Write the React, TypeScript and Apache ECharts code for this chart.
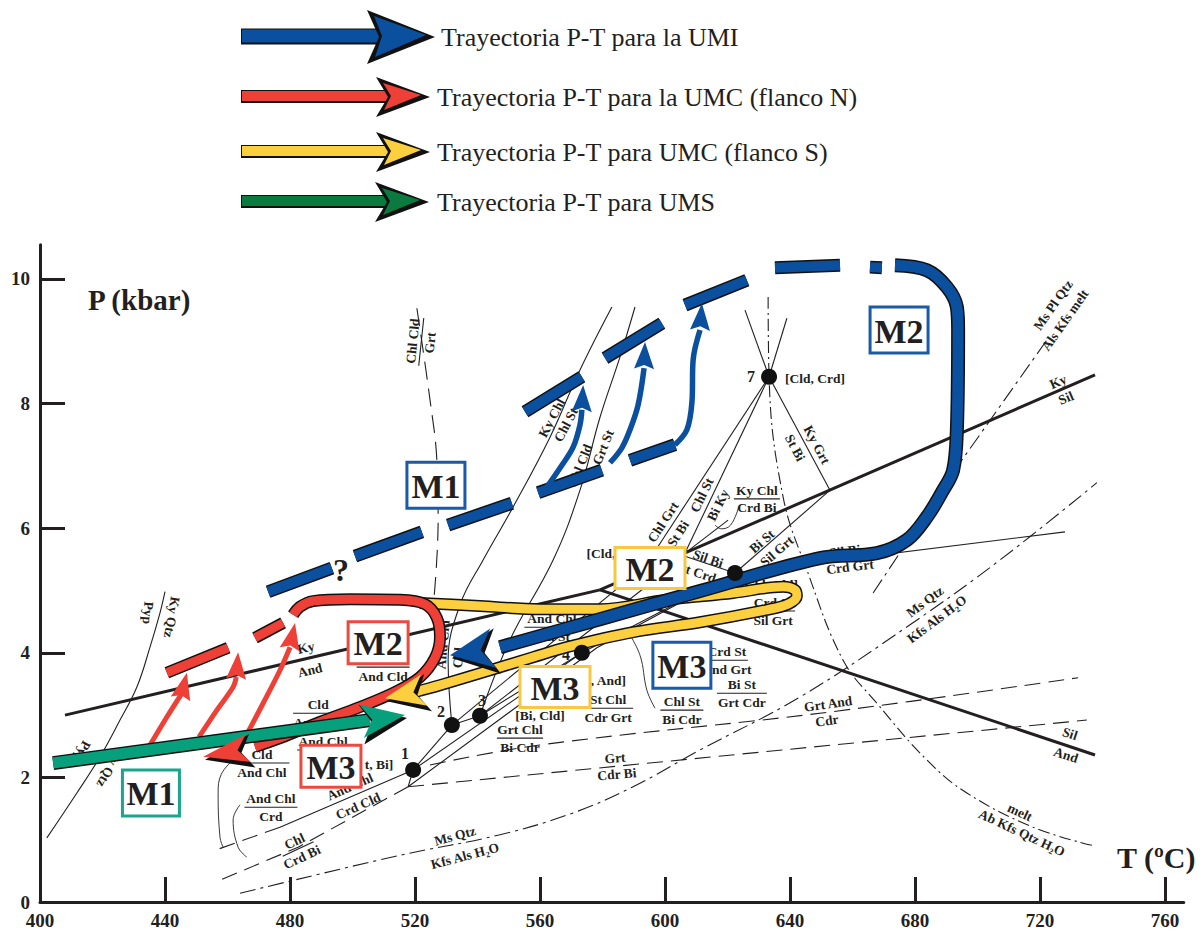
import React, { useEffect, useRef } from "react";
import * as echarts from "echarts";

const FONT = '"Liberation Serif", "Times New Roman", Times, serif';
const INK = "#231f20";

// ---------- axes ----------
const X_TICKS = [400, 440, 480, 520, 560, 600, 640, 680, 720, 760];
const Y_TICKS = [0, 2, 4, 6, 8, 10];

// ---------- legend ----------
const LEGEND_LABELS = [
  "Trayectoria P-T para la UMI",
  "Trayectoria P-T para la UMC (flanco N)",
  "Trayectoria P-T para UMC (flanco S)",
  "Trayectoria P-T para UMS",
];

// ---------- colours ----------
const BLUE = "#0b4f9f";
const RED = "#ee4036";
const YELLOW = "#fccf3e";
const GREEN = "#07a07d";
const LEGEND_GREEN = "#0b7a3f";
const BOX_COLORS: Record<string, string> = { b: "#1a5aa8", g: "#1aa58c", r: "#ea4a3f", y: "#f7c841" };

// ---------- reaction curves (T °C, P kbar) ----------
const KY_AND = [[408.0, 3.0], [579.2, 5.01]];
const KY_SIL = [[579.2, 5.01], [737.6, 8.46]];
const SIL_AND = [[579.2, 5.01], [737.6, 2.36]];
const KY_QTZ_PYP = [[402.2, 1.03], [411.8, 1.75], [419.2, 2.33], [425.6, 2.92], [431.0, 3.45], [435.2, 4.09], [438.4, 4.64], [440.0, 4.98]];
const CHL_CLD_GRT = [[520.6, 9.53], [524.8, 8.06], [527.0, 7.09], [527.4, 6.13], [525.6, 4.6]];
const KYCHL_CHLST = [[531.8, 2.84], [530.6, 3.88], [534.4, 4.77], [541.8, 5.49], [551.4, 6.34], [563.2, 7.46], [572.8, 8.54], [583.0, 9.55]];
const CLD_GRTST = [[540.8, 2.99], [550.4, 4.21], [564.2, 5.49], [572.8, 6.61], [579.2, 7.78], [585.6, 8.75], [590.4, 9.55]];
const P7_UP_LEFT = [[633.3, 8.43], [625.6, 9.5]];
const P7_UP_RIGHT = [[633.3, 8.43], [639.0, 9.37]];
const KYGRT_STBI = [[633.3, 8.43], [652.8, 6.61]];
const BIST_SILGRT = [[652.8, 6.61], [622.4, 5.28]];
const CHLGRT_STBI = [[633.3, 8.43], [593.9, 5.41]];
const CHLST_BIKY = [[633.3, 8.43], [606.4, 5.6]];
const BIKY_SHORT = [[606.4, 5.6], [620.2, 6.13]];
const SILBI_GRTCRD = [[606.4, 5.55], [622.4, 5.28], [728.0, 5.94]];
const MELT = [[633.0, 9.71], [633.3, 8.43], [637.8, 6.5], [645.4, 5.33], [657.0, 3.88], [667.8, 3.19], [683.8, 2.28], [696.6, 1.75], [717.8, 1.2], [736.6, 0.91]];
const MS_QTZ = [[464.0, 0.14], [515.2, 0.75], [547.2, 1.08], [570.6, 1.43], [589.8, 1.85], [611.2, 2.44], [643.2, 3.29], [678.4, 4.45], [707.2, 5.49], [738.2, 6.73]];
const MS_PL_QTZ = [[666.6, 4.96], [694.4, 7.05], [722.2, 9.02]];
const GRT_AND_CDR = [[524.8, 2.2], [560.0, 2.52], [652.8, 3.05], [732.2, 3.6]];
const GRT_CDR_BI = [[517.8, 1.85], [735.0, 2.92]];
const P1_SW_SOLID = [[519.4, 2.12], [476.8, 1.2]];
const P1_SW_DASH = [[476.8, 1.2], [456.0, 0.83]];
const CHL_CRDBI = [[517.8, 1.85], [482.6, 0.88], [457.6, 0.35]];
const FAN_LINES = [
  [[519.4, 2.12], [531.8, 2.84]],
  [[531.8, 2.84], [540.8, 2.99]],
  [[517.8, 1.85], [519.4, 2.12]],
  [[517.8, 1.85], [578.2, 4.08], [622.4, 5.28]],
  [[519.4, 2.12], [573.4, 4.0]],
  [[540.8, 2.99], [573.4, 4.0], [622.4, 5.28]],
  [[531.8, 2.84], [593.9, 5.41]],
  [[540.8, 2.99], [606.4, 5.55]],
];
const CONNECTORS = [
  [[461.8, 2.28], [458.0, 2.05], [457.0, 1.75], [457.6, 1.04], [458.6, 0.88]],
  [[464.0, 1.56], [461.8, 1.32], [463.4, 0.88], [466.2, 0.72]],
  [[587.8, 4.37], [592.0, 3.96], [594.2, 3.4], [596.8, 3.11]],
  [[623.6, 6.34], [621.0, 6.05], [618.0, 5.99], [616.0, 6.05]],
];
const INVARIANT_POINTS = [[519.4, 2.12], [531.8, 2.84], [540.8, 2.99], [573.4, 4.0], [622.4, 5.28], [633.3, 8.43]];

// ---------- P-T paths ----------
const BLUE_DASHES = [
  [[473.0, 4.98], [493.4, 5.36]],
  [[500.8, 5.55], [522.2, 5.94]],
  [[530.6, 6.05], [551.0, 6.4]],
  [[559.4, 6.57], [579.8, 6.93]],
  [[588.8, 7.09], [603.2, 7.34]],
  [[555.2, 7.87], [573.4, 8.43]],
  [[580.8, 8.73], [599.0, 9.29]],
  [[606.4, 9.58], [626.2, 9.98]],
  [[635.2, 10.18], [656.0, 10.22]],
  [[665.6, 10.19], [669.4, 10.18]],
];
const BLUE_PATH = [[673.6, 10.22], [683.8, 10.14], [690.2, 9.87], [693.4, 9.55], [693.8, 9.18], [693.4, 7.58], [692.2, 6.93], [689.0, 6.61], [683.8, 6.18], [677.4, 5.81], [667.8, 5.6], [649.6, 5.52], [611.2, 4.99], [579.2, 4.54], [547.2, 4.09]];
const BLUE_ARROWS = [
  [[562.2, 6.66], [567.0, 7.01], [570.6, 7.3], [572.8, 7.66], [573.4, 7.9]],
  [[582.4, 7.05], [586.2, 7.29], [588.8, 7.58], [591.4, 7.98], [593.3, 8.57]],
  [[603.2, 7.34], [607.0, 7.58], [608.6, 8.01], [609.0, 8.7], [611.2, 9.18]],
];
const RED_DASHES = [
  [[440.6, 3.68], [460.2, 4.08]],
  [[468.8, 4.24], [477.8, 4.48]],
];
const RED_PATH = [[481.0, 4.61], [483.2, 4.74], [487.4, 4.83], [499.2, 4.86], [515.2, 4.85], [523.2, 4.78], [527.0, 4.56], [528.0, 4.25], [526.4, 3.92], [521.6, 3.61], [513.6, 3.37], [502.4, 3.13], [489.6, 2.89], [476.8, 2.63], [468.8, 2.49]];
const RED_ARROWS = [
  [[435.2, 2.52], [440.6, 2.97], [445.4, 3.35]],
  [[450.9, 2.65], [456.6, 3.08], [461.8, 3.45], [462.8, 3.61]],
  [[466.6, 2.73], [471.4, 3.19], [476.8, 3.72], [480.0, 4.09]],
];
const YELLOW_PATH = [[521.6, 4.8], [540.8, 4.75], [560.0, 4.7], [579.2, 4.7], [600.6, 4.85], [621.8, 4.96], [637.8, 5.06], [641.6, 5.01], [642.2, 4.91], [639.4, 4.78], [632.6, 4.69], [611.2, 4.49], [589.8, 4.33], [568.6, 4.09], [557.8, 3.93], [544.0, 3.72], [528.0, 3.48], [520.0, 3.37]];
const GREEN_PATH = [[404.2, 2.23], [505.6, 2.92]];

// arrow heads: tip, direction-from point, colour, kind
const ARROW_HEADS: [number[], number[], string, string][] = [
  [[531.2, 3.96], [547.2, 4.09], "blue", "big"],
  [[510.4, 3.27], [520.0, 3.37], "yellow", "yel"],
  [[452.2, 2.33], [468.8, 2.49], "red", "redbig"],
  [[516.8, 3.0], [505.6, 2.92], "green", "green"],
  [[573.8, 8.3], [573.4, 7.9], "blue", "small"],
  [[593.6, 8.99], [593.3, 8.57], "blue", "small"],
  [[611.8, 9.61], [611.2, 9.18], "blue", "small"],
  [[447.0, 3.68], [445.4, 3.35], "red", "small"],
  [[463.4, 4.01], [462.8, 3.61], "red", "small"],
  [[481.6, 4.48], [480.0, 4.09], "red", "small"],
];

// ---------- annotations ----------
const LABELS: [string, number, number, number][] = [
  ["Ky", 485.1, 4.08, 13], ["And", 486.4, 3.72, 13],
  ["Ky", 725.8, 8.35, 23], ["Sil", 728.3, 8.09, 23],
  ["Sil", 729.6, 2.7, -18], ["And", 728.3, 2.36, -18],
  ["Pyp", 434.6, 4.64, -95], ["Ky Qtz", 442.2, 4.57, -100],
  ["Ky Qtz", 422.4, 2.15, -118], ["Pyp", 413.4, 2.41, -118],
  ["Ky Chl", 563.8, 7.77, 62], ["Chl St", 568.3, 7.66, 62],
  ["Chl Cld", 572.8, 7.0, 68], ["Grt St", 580.2, 7.3, 68],
  ["Chl Grt", 599.4, 6.1, 57], ["St Bi", 604.2, 5.91, 57],
  ["Chl St", 611.8, 6.53, 64], ["Bi Ky", 617.0, 6.37, 64],
  ["Sil Bi", 613.8, 5.51, -19], ["Grt Crd", 609.0, 5.31, -19],
  ["Bi St", 631.0, 5.79, 41], ["Sil Grt", 635.8, 5.63, 41],
  ["Ky Grt", 648.6, 7.34, -62], ["St Bi", 641.6, 7.29, -62],
  ["Sil Bi", 657.6, 5.63, 7], ["Crd Grt", 659.2, 5.38, 7],
  ["Grt And", 652.2, 3.18, 8], ["Cdr", 651.8, 2.91, 8],
  ["Grt", 584.0, 2.31, 5], ["Cdr Bi", 584.6, 2.05, 5],
  ["Ms Qtz", 532.8, 1.06, 15], ["Kfs Als H₂O", 536.0, 0.74, 15],
  ["Ms Qtz", 683.2, 4.82, 37], ["Kfs Als H₂O", 687.0, 4.54, 37],
  ["melt", 713.6, 1.44, -25], ["Ab Kfs Qtz H₂O", 714.2, 1.11, -25],
  ["Ms Pl Qtz", 724.2, 9.58, 55], ["Als Kfs melt", 728.0, 9.34, 55],
  ["And Chl", 499.2, 1.85, 24], ["Crd Cld", 501.8, 1.54, 24],
  ["And Cld", 529.0, 4.13, 85], ["Chl", 533.8, 3.92, 85],
  ["[Cld, Crd]", 648.0, 8.41, 0], ["[Bi, Cld]", 560.0, 2.99, 0],
  [", And]", 581.9, 3.55, 0], ["t, Bi]", 508.5, 2.2, 0],
  ["[Cld,", 579.5, 5.6, 0], ["[Chl, Cld]", 633.3, 5.1, 0],
];
const POINT_NUMBERS: [string, number, number][] = [
  ["7", 627.5, 8.43], ["1", 516.8, 2.38], ["2", 528.3, 3.05], ["3", 541.4, 3.24], ["4", 568.3, 3.98],
];
const QUESTION: [string, number, number][] = [["?", 496.3, 5.33]];

const FRACTIONS: [string, string, number, number, number, number][] = [
  ["Chl Cld", "Grt", 522.0, 8.99, 84, 48],
  ["Ky Chl", "Crd Bi", 629.4, 6.47, 0, 46],
  ["Crd St", "Sil Grt", 634.6, 4.67, 0, 44],
  ["Crd St", "And Grt", 619.8, 3.88, 0, 42],
  ["Bi St", "Grt Cdr", 624.6, 3.35, 0, 50],
  ["Chl St", "Bi Cdr", 605.4, 3.08, 0, 43],
  ["St Chl", "Cdr Grt", 581.8, 3.11, 0, 50],
  ["Grt Chl", "Bi Cdr", 553.6, 2.63, 0, 46],
  ["And Chl", "Chl St", 563.8, 4.41, 0, 55],
  ["Cld", "And Chl", 489.0, 3.03, 0, 50],
  ["And Chl", "", 490.6, 2.44, 0, 52],
  ["Cld", "And Chl", 471.0, 2.23, 0, 55],
  ["And Chl", "Crd", 473.9, 1.52, 0, 53],
  ["", "And Cld", 509.8, 3.77, 0, 53],
  ["Chl", "Crd Bi", 482.6, 0.85, 25, 34],
];

const BOXES: [string, number, number, string][] = [
  ["M1", 526.7, 6.69, "b"], ["M2", 674.9, 9.18, "b"], ["M3", 605.4, 3.8, "b"],
  ["M1", 435.5, 1.75, "g"], ["M2", 508.2, 4.16, "r"], ["M3", 493.1, 2.18, "r"],
  ["M2", 595.2, 5.36, "y"], ["M3", 564.8, 3.45, "y"],
];
const BOX_SIZE: Record<string, [number, number]> = { b: [58, 46], g: [57, 46], r: [60, 42], y: [70, 41] };

// ---------- helpers ----------
const DASH = [16, 8];
const DASH_DOT = [12, 4, 2, 4];
const DASH_DOT_LONG = [16, 5, 3, 5];

function thin(data: number[][], type: any = "solid", smooth = false, width = 1.1) {
  return {
    type: "line", data, symbol: "none", showSymbol: false, smooth: smooth ? 0.4 : false,
    lineStyle: { color: INK, width, type }, z: 2, silent: true, clip: false, animation: false,
  };
}
function colored(data: number[][], color: string, width: number, smooth: boolean, z: number, outline = true) {
  const base = { type: "line", data, symbol: "none", showSymbol: false, smooth: smooth ? 0.35 : false, silent: true, clip: false, animation: false };
  const out: any[] = [];
  if (outline) out.push({ ...base, z, lineStyle: { color: "#111", width: width + 3, cap: "butt", join: "round" } });
  out.push({ ...base, z: z + 0.1, lineStyle: { color, width, cap: "butt", join: "round" } });
  return out;
}
const textStyle = (text: string, size: number, bold = true) => ({
  text, fill: INK, fontFamily: FONT, fontWeight: bold ? "bold" : "normal", fontSize: size,
  align: "center", verticalAlign: "middle",
});

const HEAD_COLORS: Record<string, string> = { blue: BLUE, red: RED, yellow: YELLOW, green: GREEN };
const HEAD_SIZE: Record<string, [number, number, number, boolean]> = {
  big: [44, 20, 13, true], yel: [40, 16, 11, true], redbig: [46, 14, 11, true], green: [44, 17, 11, true], small: [27, 10, 4, false],
};

export default function App() {
  const ref = useRef<HTMLDivElement>(null);
  useEffect(() => {
    if (!ref.current) return;
    const chart = echarts.init(ref.current, null, { renderer: "svg" });

    const series: any[] = [];
    // thin reaction curves
    series.push(thin(KY_AND, "solid", false, 3));
    series.push(thin(KY_SIL, "solid", false, 3));
    series.push(thin(SIL_AND, "solid", false, 3));
    series.push(thin(KY_QTZ_PYP, "solid", true));
    series.push(thin(CHL_CLD_GRT, [18, 9], true));
    series.push(thin(KYCHL_CHLST, "solid", true));
    series.push(thin(CLD_GRTST, "solid", true));
    series.push(thin(P7_UP_LEFT));
    series.push(thin(P7_UP_RIGHT));
    series.push(thin(KYGRT_STBI));
    series.push(thin(BIST_SILGRT));
    series.push(thin(CHLGRT_STBI));
    series.push(thin(CHLST_BIKY));
    series.push(thin(BIKY_SHORT));
    series.push(thin(SILBI_GRTCRD));
    series.push(thin(MELT, DASH_DOT, true));
    series.push(thin(MS_QTZ, DASH_DOT_LONG, true));
    series.push(thin(MS_PL_QTZ, DASH_DOT_LONG, false));
    series.push(thin(GRT_AND_CDR, DASH, true));
    series.push(thin(GRT_CDR_BI, DASH));
    series.push(thin(P1_SW_SOLID));
    series.push(thin(P1_SW_DASH, DASH));
    series.push(thin(CHL_CRDBI, DASH));
    FAN_LINES.forEach((d) => series.push(thin(d)));
    CONNECTORS.forEach((d) => series.push(thin(d, "solid", true, 0.9)));

    // labels
    series.push({
      type: "custom", coordinateSystem: "cartesian2d", z: 3, silent: true, clip: false, animation: false,
      data: LABELS.map((l) => [l[1], l[2]]),
      renderItem: (p: any, api: any) => {
        const l = LABELS[p.dataIndex];
        const c = api.coord([l[1], l[2]]);
        return { type: "text", x: c[0], y: c[1], rotation: (l[3] * Math.PI) / 180, style: textStyle(l[0], 13.5) };
      },
    });
    series.push({
      type: "custom", coordinateSystem: "cartesian2d", z: 3, silent: true, clip: false, animation: false,
      data: POINT_NUMBERS.map((l) => [l[1], l[2]]),
      renderItem: (p: any, api: any) => {
        const l = POINT_NUMBERS[p.dataIndex];
        const c = api.coord([l[1], l[2]]);
        return { type: "text", x: c[0], y: c[1], style: textStyle(l[0], 16) };
      },
    });
    series.push({
      type: "custom", coordinateSystem: "cartesian2d", z: 3, silent: true, clip: false, animation: false,
      data: QUESTION.map((l) => [l[1], l[2]]),
      renderItem: (p: any, api: any) => {
        const l = QUESTION[p.dataIndex];
        const c = api.coord([l[1], l[2]]);
        return { type: "text", x: c[0], y: c[1], style: textStyle(l[0], 32) };
      },
    });
    series.push({
      type: "custom", coordinateSystem: "cartesian2d", z: 3, silent: true, clip: false, animation: false,
      data: FRACTIONS.map((f) => [f[2], f[3]]),
      renderItem: (p: any, api: any) => {
        const f = FRACTIONS[p.dataIndex];
        const c = api.coord([f[2], f[3]]);
        const w = f[5];
        const children: any[] = [];
        if (f[0]) children.push({ type: "text", x: 0, y: -8.5, style: textStyle(f[0], 13.5) });
        children.push({ type: "line", shape: { x1: -w / 2, y1: 0, x2: w / 2, y2: 0 }, style: { stroke: INK, lineWidth: 1.1 } });
        if (f[1]) children.push({ type: "text", x: 0, y: 9, style: textStyle(f[1], 13.5) });
        return { type: "group", x: c[0], y: c[1], rotation: (f[4] * Math.PI) / 180, children };
      },
    });

    // coloured P-T paths
    series.push(...colored(YELLOW_PATH, YELLOW, 9, true, 5));
    RED_DASHES.forEach((d) => series.push(...colored(d, RED, 9, false, 6)));
    series.push(...colored(RED_PATH, RED, 9, true, 6));
    RED_ARROWS.forEach((d) => series.push(...colored(d, RED, 5, true, 6, false)));
    BLUE_DASHES.forEach((d) => series.push(...colored(d, BLUE, 10, false, 7)));
    series.push(...colored(BLUE_PATH, BLUE, 11, true, 7));
    BLUE_ARROWS.forEach((d) => series.push(...colored(d, BLUE, 5.5, true, 7, false)));
    series.push(...colored(GREEN_PATH, GREEN, 11, false, 8));

    // arrow heads
    series.push({
      type: "custom", coordinateSystem: "cartesian2d", z: 8.5, silent: true, clip: false, animation: false,
      data: ARROW_HEADS.map((a) => a[0]),
      renderItem: (p: any, api: any) => {
        const a = ARROW_HEADS[p.dataIndex];
        const t = api.coord(a[0]);
        const f = api.coord(a[1]);
        const [len, hw, notch, shadow] = HEAD_SIZE[a[3]];
        const dx = t[0] - f[0], dy = t[1] - f[1];
        const L = Math.hypot(dx, dy) || 1;
        const ux = dx / L, uy = dy / L, nx = -uy, ny = ux;
        const mk = (ln: number, h: number, nt: number, ox: number, oy: number) => {
          const bx = t[0] - ux * ln + ox, by = t[1] - uy * ln + oy;
          return [
            [t[0] + ox, t[1] + oy],
            [bx + nx * h, by + ny * h],
            [t[0] - ux * (ln - nt) + ox, t[1] - uy * (ln - nt) + oy],
            [bx - nx * h, by - ny * h],
          ];
        };
        const children: any[] = [];
        if (shadow) children.push({ type: "polygon", shape: { points: mk(len + 2, hw + 3, notch, 2, 3) }, style: { fill: "#111" } });
        children.push({ type: "polygon", shape: { points: mk(len, hw, notch, 0, 0) }, style: { fill: HEAD_COLORS[a[2]] } });
        return { type: "group", children };
      },
    });

    // invariant points
    series.push({
      type: "scatter", data: INVARIANT_POINTS, symbol: "circle", symbolSize: 16, z: 9, silent: true,
      itemStyle: { color: "#111", opacity: 1 }, animation: false,
    });

    // metamorphic event boxes
    series.push({
      type: "custom", coordinateSystem: "cartesian2d", z: 10, silent: true, clip: false, animation: false,
      data: BOXES.map((b) => [b[1], b[2]]),
      renderItem: (p: any, api: any) => {
        const b = BOXES[p.dataIndex];
        const c = api.coord([b[1], b[2]]);
        const [w, h] = BOX_SIZE[b[3]];
        return {
          type: "group",
          children: [
            { type: "rect", shape: { x: c[0] - w / 2, y: c[1] - h / 2, width: w, height: h }, style: { fill: "#fff", stroke: BOX_COLORS[b[3]], lineWidth: 3 } },
            { type: "text", x: c[0], y: c[1] + 1, style: textStyle(b[0], 34) },
          ],
        };
      },
    });

    // legend drawn as graphic arrows
    const LEG = [
      { cy: 36, barH: 13, half: 26, tip: 433, len: 66, color: BLUE, tx: 441 },
      { cy: 96, barH: 10, half: 19, tip: 428, len: 52, color: RED, tx: 437 },
      { cy: 151, barH: 10, half: 19, tip: 428, len: 52, color: YELLOW, tx: 437 },
      { cy: 201, barH: 10, half: 19, tip: 427, len: 52, color: LEGEND_GREEN, tx: 437 },
    ];
    const graphics: any[] = [];
    LEG.forEach((g, i) => {
      const back = g.tip - g.len;
      graphics.push({ type: "rect", shape: { x: 241, y: g.cy - g.barH / 2 - 1, width: back + 14 - 241, height: g.barH + 3 }, style: { fill: "#111" } });
      graphics.push({ type: "rect", shape: { x: 242, y: g.cy - g.barH / 2, width: back + 12 - 242, height: g.barH }, style: { fill: g.color } });
      graphics.push({ type: "polygon", shape: { points: [[back, g.cy - g.half], [g.tip + 2, g.cy + 1], [back, g.cy + g.half + 2], [back + 12, g.cy + 1]] }, style: { fill: "#111" } });
      graphics.push({ type: "polygon", shape: { points: [[back + 7, g.cy - g.half + 6], [g.tip - 7, g.cy - 1], [back + 8, g.cy + g.half - 5], [back + 15, g.cy]] }, style: { fill: g.color } });
      graphics.push({ type: "text", x: g.tx, y: g.cy + 1, style: { text: LEGEND_LABELS[i], fill: INK, fontFamily: FONT, fontSize: 26, align: "left", verticalAlign: "middle" } });
    });
    graphics.push({ type: "text", x: 88, y: 300, style: { text: "P (kbar)", fill: INK, fontFamily: FONT, fontWeight: "bold", fontSize: 29, align: "left", verticalAlign: "middle" } });
    graphics.push({ type: "text", x: 1117, y: 857, style: { text: "T (ºC)", fill: INK, fontFamily: FONT, fontWeight: "bold", fontSize: 30, align: "left", verticalAlign: "middle" } });

    const option: any = {
      animation: false,
      backgroundColor: "#ffffff",
      grid: { left: 40, right: 20.25, top: 244.7, bottom: 29, containLabel: false, outerBoundsMode: "none" },
      xAxis: {
        type: "value", min: 400, max: 766, interval: 40,
        axisLine: { lineStyle: { color: INK, width: 3 } },
        axisTick: { inside: true, length: 25, lineStyle: { color: INK, width: 3 }, customValues: X_TICKS.slice(1) },
        axisLabel: {
          customValues: X_TICKS, margin: 9, color: INK, fontFamily: FONT, fontWeight: "bold", fontSize: 19,
          formatter: (v: number) => (X_TICKS.includes(v) ? String(v) : ""),
        },
        splitLine: { show: false },
      },
      yAxis: {
        type: "value", min: 0, max: 10.55, interval: 2,
        axisLine: { lineStyle: { color: INK, width: 3 } },
        axisTick: { inside: true, length: 25, lineStyle: { color: INK, width: 3 }, customValues: Y_TICKS.slice(1) },
        axisLabel: {
          customValues: Y_TICKS, margin: 10, color: INK, fontFamily: FONT, fontWeight: "bold", fontSize: 19,
          formatter: (v: number) => (Y_TICKS.includes(v) ? String(v) : ""),
        },
        splitLine: { show: false },
      },
      graphic: { elements: graphics },
      series,
    };
    chart.setOption(option);
    return () => chart.dispose();
  }, []);

  return (
    <div
      ref={ref}
      style={{ position: "fixed", left: 0, top: 0, width: 1204, height: 931, background: "#fff" }}
    />
  );
}
